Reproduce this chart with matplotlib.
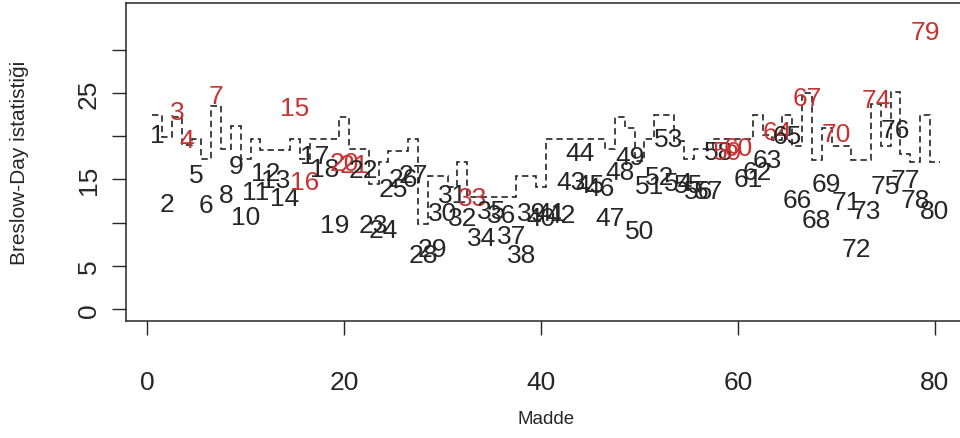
import matplotlib
matplotlib.use('Agg')
import matplotlib.pyplot as plt
import numpy as np

plt.rcParams['font.family'] = ['Liberation Sans', 'DejaVu Sans']

items = list(range(1, 81))
bd_values = [20.4, 12.5, 23.1, 19.9, 15.8, 12.3, 24.9, 13.5, 16.8, 11.0,
             13.9, 16.0, 15.2, 13.2, 23.5, 15.0, 18.0, 16.5, 10.0, 17.2,
             17.0, 16.4, 10.0, 9.5, 14.2, 15.3, 15.8, 6.6, 7.3, 11.4,
             13.5, 10.8, 13.1, 8.5, 11.6, 11.2, 8.7, 6.6, 11.4, 10.8,
             11.4, 11.2, 15.0, 18.3, 14.7, 14.3, 10.8, 16.2, 17.9, 9.3,
             14.5, 15.6, 20.0, 14.9, 14.6, 14.0, 14.0, 18.5, 18.5, 18.9,
             15.4, 16.2, 17.6, 20.8, 20.3, 12.9, 24.7, 10.6, 14.8, 20.6,
             12.7, 7.3, 11.6, 24.5, 14.5, 21.0, 15.2, 12.9, 32.4, 11.6]
critical = [22.4, 19.9, 22.2, 19.0, 19.7, 17.4, 23.5, 18.5, 21.2, 17.4,
            19.7, 18.4, 18.4, 18.4, 19.7, 17.4, 19.7, 19.7, 19.7, 22.2,
            18.5, 18.5, 14.5, 17.0, 18.3, 18.3, 19.7, 9.8, 15.4, 15.4,
            14.1, 17.0, 13.0, 13.0, 13.0, 13.0, 13.0, 15.4, 15.4, 14.1,
            19.7, 19.7, 19.7, 19.7, 19.7, 19.7, 18.5, 22.2, 21.0, 17.1,
            19.7, 22.4, 22.4, 19.5, 17.4, 18.5, 18.5, 19.7, 19.7, 19.7,
            19.7, 22.4, 20.1, 19.6, 22.4, 18.9, 25.0, 17.2, 21.0, 18.9,
            18.9, 17.2, 17.2, 23.7, 18.9, 25.1, 18.0, 17.0, 22.4, 17.0]
red_items = [3, 4, 7, 15, 16, 20, 21, 33, 59, 60, 64, 67, 70, 74, 79]
x_ticks = [0, 20, 40, 60, 80]
y_ticks = [0, 5, 10, 15, 20, 25, 30]
y_tick_labels = ['0', '5', '', '15', '', '25', '']

fig = plt.figure(figsize=(9.6, 4.39), dpi=100)
ax = fig.add_axes([126 / 960, (439 - 322) / 439, 840 / 960, (322 - 4.4) / 439])

edges = np.arange(0.5, len(items) + 1.0, 1.0)
ax.stairs(critical, edges, baseline=None, color='#1a1a1a', linewidth=1.15,
          linestyle=(0, (4, 2.5)))

for i, v in zip(items, bd_values):
    col = '#c83232' if i in red_items else '#262626'
    ax.text(i, v, str(i), ha='center', va='center_baseline', fontsize=19,
            color=col)

ax.set_xlim(-2.16, 83.16)
ax.set_ylim(-1.36, 35.36)
ax.set_xticks(x_ticks)
ax.set_xticklabels([str(t) for t in x_ticks])
ax.set_yticks(y_ticks)
ax.set_yticklabels(y_tick_labels, rotation=90, va='center')
ax.tick_params(axis='both', length=10, width=1.0, color='#262626',
               labelcolor='#262626', labelsize=19)
ax.tick_params(axis='x', pad=25)
ax.tick_params(axis='y', pad=8)
for s in ax.spines.values():
    s.set_linewidth(1.1)
    s.set_color('#262626')

ax.set_xlabel('Madde', fontsize=13.5, color='#262626')
ax.xaxis.label.set_va('center')
ax.xaxis.set_label_coords(0.5, (322 - 420) / 317.6)
ax.set_ylabel('Breslow-Day istatistiği', fontsize=15, color='#262626')
ax.yaxis.label.set_va('center')
ax.yaxis.set_label_coords((20 - 126) / 840, 0.5)

fig.savefig('out.png', dpi=100)
